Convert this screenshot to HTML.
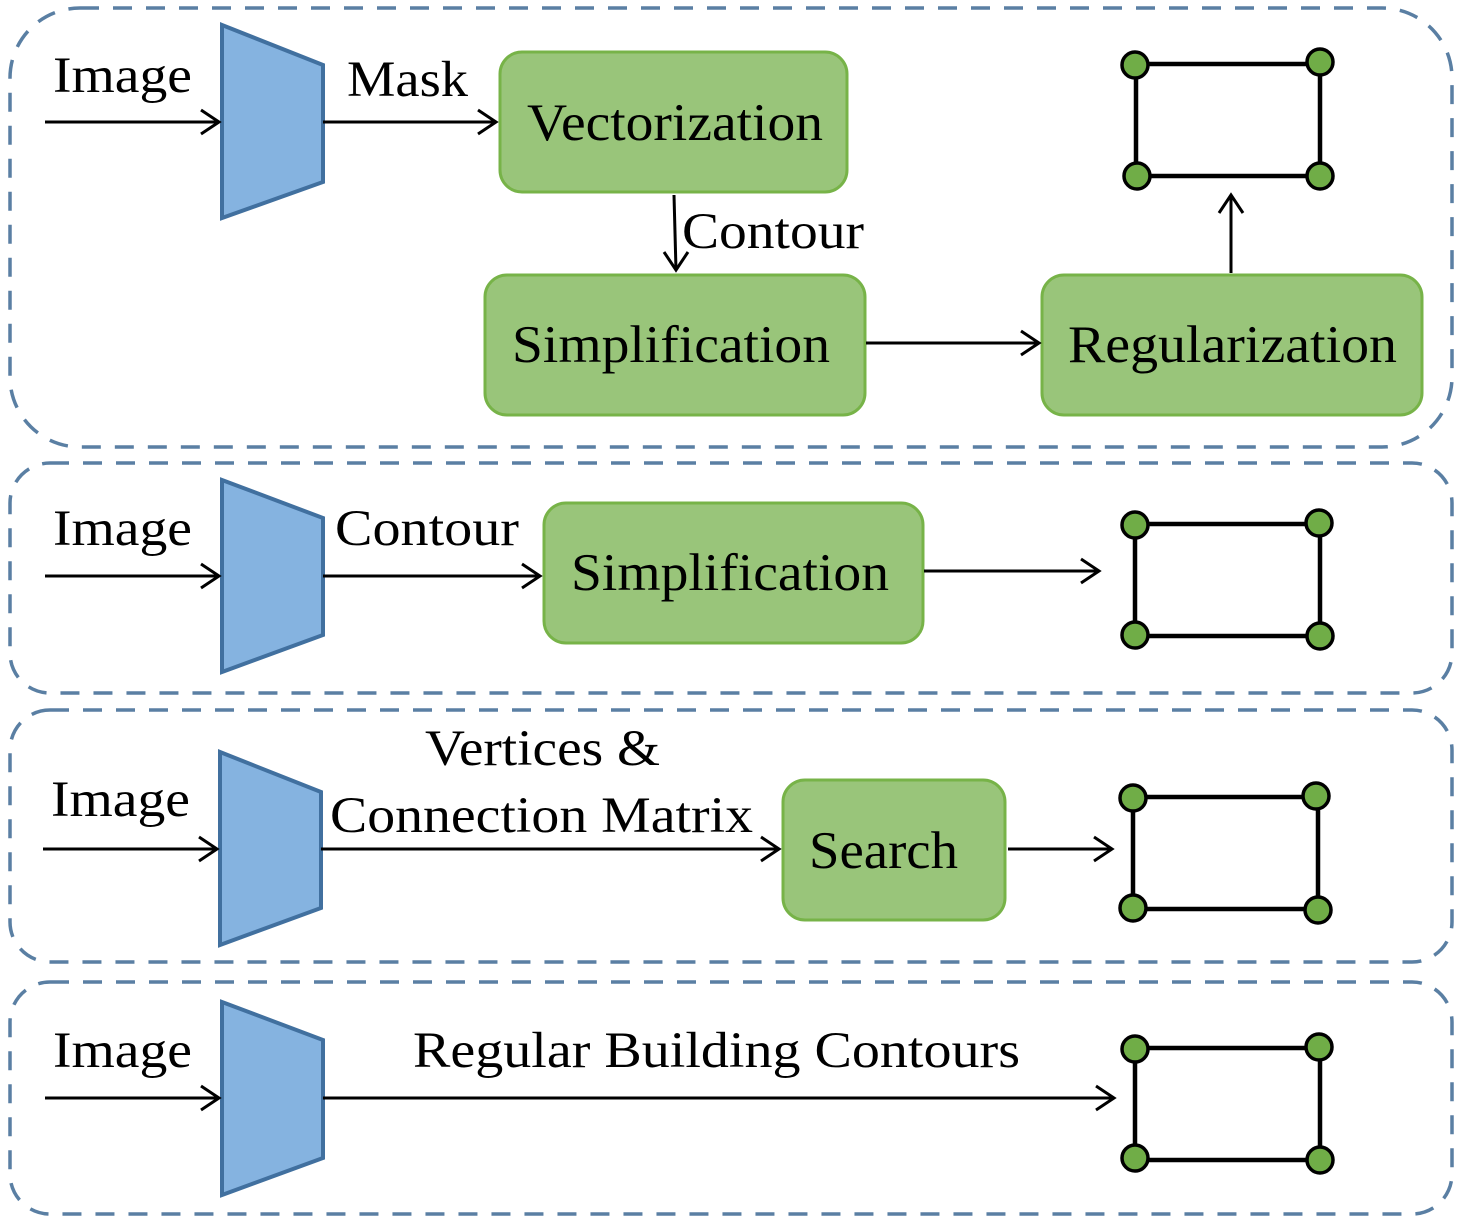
<!DOCTYPE html>
<html><head><meta charset="utf-8"><style>
html,body{margin:0;padding:0;background:#fff;}
svg text{font-family:"Liberation Serif","Times New Roman",serif;fill:#000;}
</style></head><body>
<svg width="1462" height="1222" viewBox="0 0 1462 1222" xmlns="http://www.w3.org/2000/svg">
<g fill="none" stroke="#5a7fa3" stroke-width="3.5" stroke-dasharray="19 14">
<rect x="10" y="8" width="1442" height="439" rx="70"/>
<rect x="10" y="463" width="1442" height="230" rx="40"/>
<rect x="10" y="710" width="1442" height="252" rx="40"/>
<rect x="10" y="982" width="1442" height="232" rx="40"/>
</g>
<g fill="#85b3e0" stroke="#41709f" stroke-width="4">
<polygon points="222,25 323,65 323,182 222,218"/>
<polygon points="222,480 323,518 323,635 222,672"/>
<polygon points="220,752 321,792 321,908 220,945"/>
<polygon points="222,1002 323,1040 323,1158 222,1195"/>
</g>
<g fill="#99c57a" stroke="#77b348" stroke-width="3">
<rect x="500" y="52" width="347" height="140" rx="22"/>
<rect x="485" y="275" width="380" height="140" rx="22"/>
<rect x="1042" y="275" width="380" height="140" rx="22"/>
<rect x="544" y="503" width="379" height="140" rx="22"/>
<rect x="783" y="780" width="222" height="140" rx="22"/>
</g>
<g stroke="#000" stroke-width="3" fill="none">
<line x1="45" y1="122" x2="219" y2="122"/><path d="M201,110 L219,122 L201,134"/>
<line x1="323" y1="122" x2="496" y2="122"/><path d="M478,110 L496,122 L478,134"/>
<line x1="674" y1="195" x2="676" y2="270"/><path d="M664,252 L676,270 L688,252"/>
<line x1="866" y1="343" x2="1039" y2="343"/><path d="M1021,331 L1039,343 L1021,355"/>
<line x1="1231" y1="273" x2="1231" y2="195"/><path d="M1219,213 L1231,195 L1243,213"/>
<line x1="45" y1="576" x2="219" y2="576"/><path d="M201,564 L219,576 L201,588"/>
<line x1="323" y1="576" x2="540" y2="576"/><path d="M522,564 L540,576 L522,588"/>
<line x1="924" y1="571" x2="1099" y2="571"/><path d="M1081,559 L1099,571 L1081,583"/>
<line x1="43" y1="849" x2="217" y2="849"/><path d="M199,837 L217,849 L199,861"/>
<line x1="321" y1="849" x2="779" y2="849"/><path d="M761,837 L779,849 L761,861"/>
<line x1="1008" y1="849" x2="1112" y2="849"/><path d="M1094,837 L1112,849 L1094,861"/>
<line x1="45" y1="1098" x2="219" y2="1098"/><path d="M201,1086 L219,1098 L201,1110"/>
<line x1="323" y1="1098" x2="1114" y2="1098"/><path d="M1096,1086 L1114,1098 L1096,1110"/>
</g>
<g stroke="#000" stroke-width="4.5" fill="none">
<rect x="1136" y="64" width="184" height="112"/>
<rect x="1135" y="524" width="185" height="112"/>
<rect x="1133" y="797" width="185" height="112"/>
<rect x="1135" y="1048" width="185" height="112"/>
</g>
<g fill="#70ad47" stroke="#000" stroke-width="3.5">
<circle cx="1135" cy="65" r="13"/><circle cx="1320" cy="62" r="13"/><circle cx="1137" cy="176" r="13"/><circle cx="1320" cy="176" r="13"/>
<circle cx="1135" cy="525" r="13"/><circle cx="1319" cy="523" r="13"/><circle cx="1135" cy="635" r="13"/><circle cx="1320" cy="636" r="13"/>
<circle cx="1133" cy="798" r="13"/><circle cx="1316" cy="796" r="13"/><circle cx="1133" cy="908" r="13"/><circle cx="1318" cy="910" r="13"/>
<circle cx="1135" cy="1049" r="13"/><circle cx="1319" cy="1047" r="13"/><circle cx="1135" cy="1158" r="13"/><circle cx="1320" cy="1160" r="13"/>
</g>
<g font-size="51">
<text x="53" y="92" textLength="139" lengthAdjust="spacingAndGlyphs">Image</text>
<text x="347" y="96" textLength="121" lengthAdjust="spacingAndGlyphs">Mask</text>
<text x="682" y="248" textLength="182" lengthAdjust="spacingAndGlyphs">Contour</text>
<text x="53" y="545" textLength="139" lengthAdjust="spacingAndGlyphs">Image</text>
<text x="335" y="545" textLength="184" lengthAdjust="spacingAndGlyphs">Contour</text>
<text x="425" y="765" textLength="235" lengthAdjust="spacingAndGlyphs">Vertices &amp;</text>
<text x="330" y="832" textLength="423" lengthAdjust="spacingAndGlyphs">Connection Matrix</text>
<text x="51" y="816" textLength="139" lengthAdjust="spacingAndGlyphs">Image</text>
<text x="53" y="1067" textLength="139" lengthAdjust="spacingAndGlyphs">Image</text>
<text x="413" y="1067" textLength="607" lengthAdjust="spacingAndGlyphs">Regular Building Contours</text>
</g>
<g font-size="53">
<text x="527" y="140" textLength="296" lengthAdjust="spacingAndGlyphs">Vectorization</text>
<text x="512" y="362" textLength="318" lengthAdjust="spacingAndGlyphs">Simplification</text>
<text x="1068" y="362" textLength="329" lengthAdjust="spacingAndGlyphs">Regularization</text>
<text x="571" y="590" textLength="318" lengthAdjust="spacingAndGlyphs">Simplification</text>
<text x="809" y="868" textLength="149" lengthAdjust="spacingAndGlyphs">Search</text>
</g>
</svg>
</body></html>
